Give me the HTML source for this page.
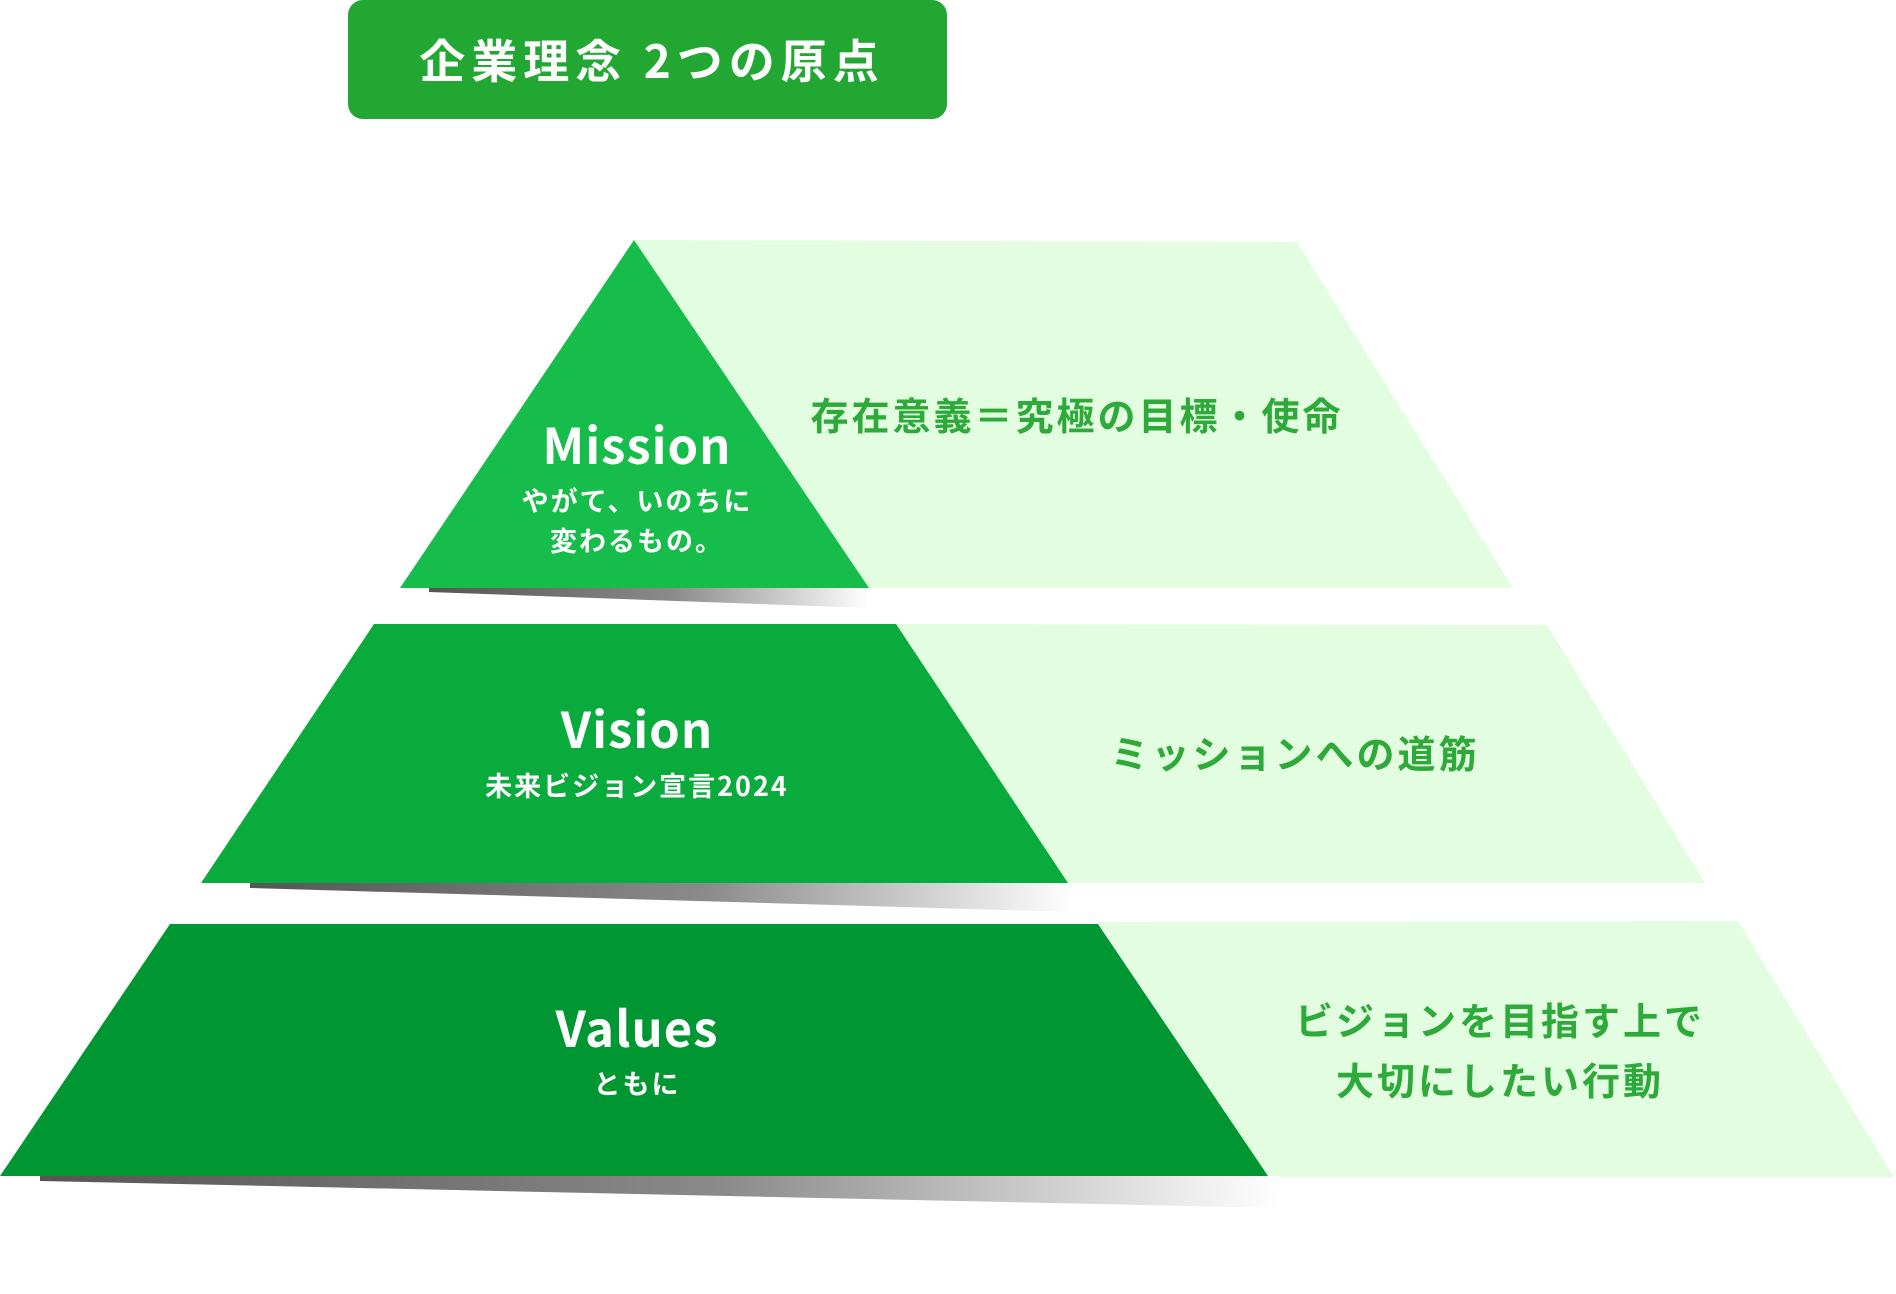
<!DOCTYPE html>
<html><head><meta charset="utf-8"><style>
html,body{margin:0;padding:0;background:#fff;}
svg{display:block;}
text{font-family:"Noto Sans CJK JP","Liberation Sans",sans-serif;font-weight:bold;}
</style></head><body>
<svg width="1896" height="1294" viewBox="0 0 1896 1294" xmlns="http://www.w3.org/2000/svg">
<defs>
<linearGradient id="sh" x1="0" y1="0" x2="1" y2="0">
<stop offset="0" stop-color="#555"/><stop offset="0.55" stop-color="#8a8a8a"/><stop offset="1" stop-color="#fff"/>
</linearGradient>
</defs>
<rect x="348" y="0" width="599" height="119" rx="15" fill="#22a832"/>
<text x="652" y="78" font-size="46" fill="#fff" text-anchor="middle" letter-spacing="6">企業理念 2つの原点</text>

<!-- Mission -->
<polygon points="634,240 1297,242 1513,588 869,588" fill="#e3fde0"/>
<polygon points="634,240 869,588 400,588" fill="#17bd4a"/>
<polygon points="429,588 869,588 869,608 429,592" fill="url(#sh)"/>
<text x="637" y="464" font-size="49" fill="#fff" text-anchor="middle" letter-spacing="1">Mission</text>
<text x="637" y="511" font-size="27" fill="#fff" text-anchor="middle" letter-spacing="2">やがて、いのちに</text>
<text x="637" y="551" font-size="27" fill="#fff" text-anchor="middle" letter-spacing="2">変わるもの。</text>
<text x="1077" y="430" font-size="38" fill="#2eaa3a" text-anchor="middle" letter-spacing="3">存在意義＝究極の目標・使命</text>

<!-- Vision -->
<polygon points="896,624 1547,625 1705,883 1068,883" fill="#e3fde0"/>
<polygon points="374,624 896,624 1068,883 201,883" fill="#08ab3c"/>
<polygon points="250,883 1075,883 1075,912 250,888" fill="url(#sh)"/>
<text x="637" y="748" font-size="49" fill="#fff" text-anchor="middle" letter-spacing="1">Vision</text>
<text x="637" y="796" font-size="27" fill="#fff" text-anchor="middle" letter-spacing="2">未来ビジョン宣言2024</text>
<text x="1295" y="768" font-size="38" fill="#2eaa3a" text-anchor="middle" letter-spacing="3">ミッションへの道筋</text>

<!-- Values -->
<polygon points="1098,922 1738,921 1894,1177 1268,1177" fill="#e3fde0"/>
<polygon points="170,924 1098,924 1268,1176 0,1176" fill="#009733"/>
<polygon points="40,1176 1280,1176 1280,1208 40,1181" fill="url(#sh)"/>
<text x="637" y="1047" font-size="49" fill="#fff" text-anchor="middle" letter-spacing="1">Values</text>
<text x="637" y="1094" font-size="27" fill="#fff" text-anchor="middle" letter-spacing="2">ともに</text>
<text x="1500" y="1035" font-size="38" fill="#2eaa3a" text-anchor="middle" letter-spacing="3">ビジョンを目指す上で</text>
<text x="1500" y="1095" font-size="38" fill="#2eaa3a" text-anchor="middle" letter-spacing="3">大切にしたい行動</text>
</svg>
</body></html>
